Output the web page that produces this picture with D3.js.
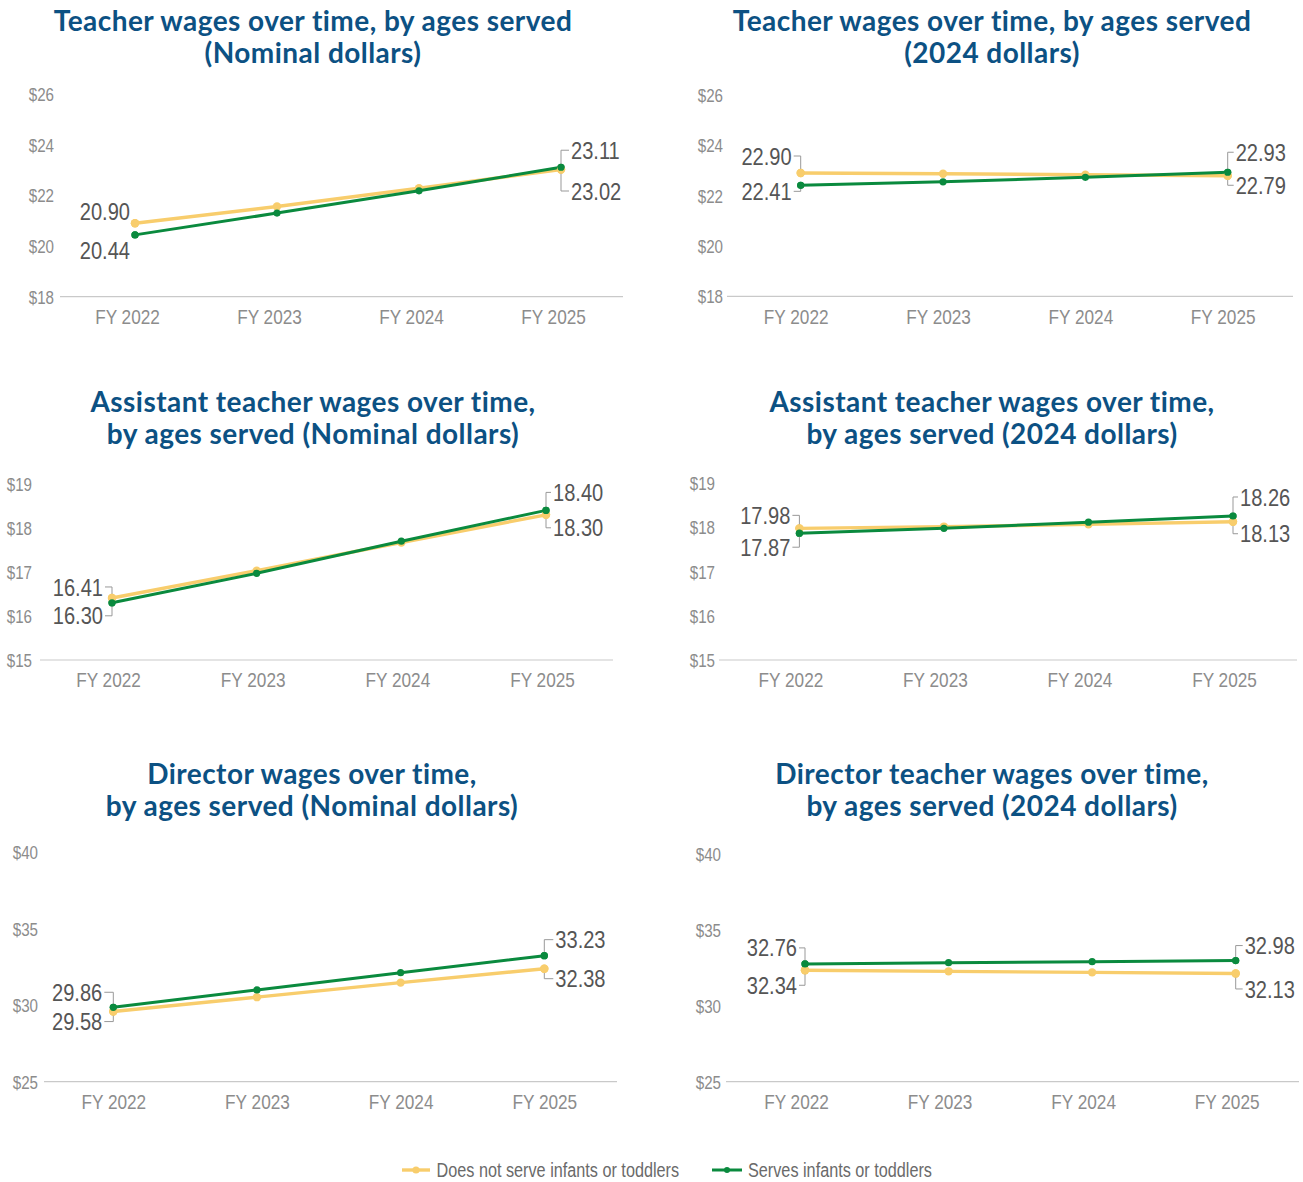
<!DOCTYPE html>
<html>
<head>
<meta charset="utf-8">
<script src="https://cdn.jsdelivr.net/npm/d3@7"></script>
<style>
  html, body { margin: 0; padding: 0; background: #fff; }
  svg { display: block; }
</style>
</head>
<body>
<svg id="chart" width="1303" height="1182"></svg>
<script>
// ---- Data ----
const years = ["FY 2022", "FY 2023", "FY 2024", "FY 2025"];
const seriesNames = ["Does not serve infants or toddlers", "Serves infants or toddlers"];

const teacherNominalNoInfants   = [20.90, 21.56, 22.28, 23.02];
const teacherNominalInfants     = [20.44, 21.30, 22.18, 23.11];
const teacherRealNoInfants      = [22.90, 22.87, 22.83, 22.79];
const teacherRealInfants        = [22.41, 22.55, 22.73, 22.93];
const assistantNominalNoInfants = [16.41, 17.03, 17.67, 18.30];
const assistantNominalInfants   = [16.30, 16.97, 17.70, 18.40];
const assistantRealNoInfants    = [17.98, 18.02, 18.07, 18.13];
const assistantRealInfants      = [17.87, 17.98, 18.12, 18.26];
const directorNominalNoInfants  = [29.58, 30.52, 31.47, 32.38];
const directorNominalInfants    = [29.86, 30.99, 32.12, 33.23];
const directorRealNoInfants     = [32.34, 32.27, 32.20, 32.13];
const directorRealInfants       = [32.76, 32.84, 32.91, 32.98];

const teacherTicks   = [18, 20, 22, 24, 26];
const assistantTicks = [15, 16, 17, 18, 19];
const directorTicks  = [25, 30, 35, 40];

const titles = [
  ["Teacher wages over time, by ages served", "(Nominal dollars)"],
  ["Teacher wages over time, by ages served", "(2024 dollars)"],
  ["Assistant teacher wages over time,", "by ages served (Nominal dollars)"],
  ["Assistant teacher wages over time,", "by ages served (2024 dollars)"],
  ["Director wages over time,", "by ages served (Nominal dollars)"],
  ["Director teacher wages over time,", "by ages served (2024 dollars)"]
];

// ---- Styles ----
const COLORS = ["#f8cd6c", "#0a8a3e"];
const LINE_W = [3.4, 3];
const DOT_R = [4.2, 3.6];
const TITLE_COLOR = "#0c5183";
const TICK_COLOR = "#8c8c8c";
const VALUE_COLOR = "#555";
const LEADER_COLOR = "#999";

// Narrow font detection; fall back to horizontally squeezed regular text
function fontAvailable(name) {
  const c = document.createElement("canvas").getContext("2d");
  const s = "FY 2022 $26 20.90 Does not serve";
  c.font = "20px monospace";
  const a = c.measureText(s).width;
  c.font = `20px '${name}', monospace`;
  const b = c.measureText(s).width;
  return Math.abs(a - b) > 0.5;
}
const HAS_NARROW = fontAvailable("Liberation Sans Narrow");
const NARROW = HAS_NARROW ? "'Liberation Sans Narrow', sans-serif" : "'Liberation Sans', Arial, sans-serif";
const SQUEEZE = HAS_NARROW ? 1 : 0.82;

function narrowText(sel) {
  sel.style("font-family", NARROW);
  if (SQUEEZE !== 1) {
    sel.each(function () {
      const t = d3.select(this);
      const x = +t.attr("x") || 0;
      t.attr("x", x / SQUEEZE).attr("transform", `scale(${SQUEEZE},1)`);
    });
  }
  return sel;
}

// ---- Panel layout ----
const panels = [
  { title: titles[0], cx: 313, ty: 21, series: [teacherNominalNoInfants, teacherNominalInfants], ticks: teacherTicks,
    px: [135, 561], axis: [60, 623], yr: [296.7, 94], tickRight: 54, xOff: -8,
    start: { dx: -5, dy: [-12, 16], leader: false }, end: { dx: 10, dy: [21.5, -17] } },
  { title: titles[1], cx: 992, ty: 21, series: [teacherRealNoInfants, teacherRealInfants], ticks: teacherTicks,
    px: [800.7, 1227.7], axis: [727, 1293], yr: [296.3, 95], tickRight: 723, xOff: -5,
    start: { dx: -9, dy: [-17, 6], leader: true }, end: { dx: 8, dy: [9.5, -20] } },
  { title: titles[2], cx: 313, ty: 402, series: [assistantNominalNoInfants, assistantNominalInfants], ticks: assistantTicks,
    px: [112, 546], axis: [40, 613], yr: [660, 484], tickRight: 32, xOff: -4,
    start: { dx: -9, dy: [-11, 13], leader: true }, end: { dx: 7, dy: [13, -18] } },
  { title: titles[3], cx: 992, ty: 402, series: [assistantRealNoInfants, assistantRealInfants], ticks: assistantTicks,
    px: [799.4, 1233], axis: [719, 1297], yr: [660, 483.3], tickRight: 715, xOff: -9,
    start: { dx: -9, dy: [-13, 14], leader: true }, end: { dx: 7, dy: [12, -19] } },
  { title: titles[4], cx: 312, ty: 774, series: [directorNominalNoInfants, directorNominalInfants], ticks: directorTicks,
    px: [113.3, 544.3], axis: [44, 617], yr: [1081.7, 852], tickRight: 38, xOff: 0,
    start: { dx: -11, dy: [10, -15], leader: true }, end: { dx: 11, dy: [10, -16] } },
  { title: titles[5], cx: 992, ty: 774, series: [directorRealNoInfants, directorRealInfants], ticks: directorTicks,
    px: [805, 1235.7], axis: [726, 1299], yr: [1081.7, 854], tickRight: 721, xOff: -9,
    start: { dx: -8, dy: [15, -16], leader: true }, end: { dx: 9, dy: [15.5, -15] } }
];

const svg = d3.select("#chart");
const fmt = d3.format(".2f");

panels.forEach(p => {
  const g = svg.append("g");
  const x = d3.scalePoint().domain(years).range(p.px);
  const y = d3.scaleLinear().domain([p.ticks[0], p.ticks[p.ticks.length - 1]]).range(p.yr);

  // Title
  const title = g.append("text")
    .attr("x", p.cx).attr("y", p.ty)
    .attr("text-anchor", "middle")
    .style("font-family", "Lato, 'Open Sans', sans-serif")
    .style("font-weight", 700)
    .style("font-size", "28px")
    .style("letter-spacing", "0.45px")
    .style("fill", TITLE_COLOR);
  p.title.forEach((line, i) => {
    title.append("tspan").attr("x", p.cx).attr("y", p.ty + i * 32).attr("dy", "0.35em").text(line);
  });

  // Baseline
  g.append("line")
    .attr("x1", p.axis[0]).attr("x2", p.axis[1])
    .attr("y1", y(p.ticks[0])).attr("y2", y(p.ticks[0]))
    .attr("stroke", "#c9c9c9").attr("stroke-width", 1.2);

  // Y axis labels
  const ya = g.append("g").attr("transform", `translate(${p.tickRight},0)`)
    .call(d3.axisLeft(y).tickValues(p.ticks).tickSize(0).tickPadding(0).tickFormat(d => "$" + d));
  ya.select(".domain").remove();
  ya.selectAll("text").attr("x", 0).attr("dy", "0.35em")
    .style("font-size", "18.5px").style("fill", TICK_COLOR);
  narrowText(ya.selectAll("text"));

  // X axis labels
  const xa = g.append("g").attr("transform", `translate(0,${y(p.ticks[0])})`)
    .call(d3.axisBottom(x).tickSize(0));
  xa.select(".domain").remove();
  xa.selectAll("text").attr("x", p.xOff).attr("y", 20).attr("dy", "0.35em")
    .style("font-size", "21px").style("fill", TICK_COLOR);
  narrowText(xa.selectAll("text"));

  // Lines and dots
  const line = d3.line().x((d, i) => x(years[i])).y(d => y(d));
  p.series.forEach((vals, si) => {
    g.append("path").datum(vals)
      .attr("d", line).attr("fill", "none")
      .attr("stroke", COLORS[si]).attr("stroke-width", LINE_W[si])
      .attr("stroke-linejoin", "round");
    g.selectAll(null).data(vals).enter().append("circle")
      .attr("cx", (d, i) => x(years[i])).attr("cy", d => y(d))
      .attr("r", DOT_R[si]).attr("fill", COLORS[si]);
  });

  // Value labels at first and last year
  p.series.forEach((vals, si) => {
    // first year
    const v0 = vals[0], px0 = x(years[0]), py0 = y(v0), ly0 = py0 + p.start.dy[si];
    const tx0 = px0 + p.start.dx;
    if (p.start.leader) {
      g.append("path")
        .attr("d", `M${tx0 + 2},${ly0}H${px0}V${py0}`)
        .attr("fill", "none").attr("stroke", LEADER_COLOR).attr("stroke-width", 1);
    }
    const t0 = g.append("text").attr("x", tx0).attr("y", ly0).attr("dy", "0.35em")
      .attr("text-anchor", "end").style("font-size", "24.5px").style("fill", VALUE_COLOR)
      .text(fmt(v0));
    narrowText(t0);

    // last year
    const n = vals.length - 1;
    const v1 = vals[n], px1 = x(years[n]), py1 = y(v1), ly1 = py1 + p.end.dy[si];
    const tx1 = px1 + p.end.dx;
    g.append("path")
      .attr("d", `M${px1},${py1}V${ly1}H${tx1 - 2}`)
      .attr("fill", "none").attr("stroke", LEADER_COLOR).attr("stroke-width", 1);
    const t1 = g.append("text").attr("x", tx1).attr("y", ly1).attr("dy", "0.35em")
      .attr("text-anchor", "start").style("font-size", "24.5px").style("fill", VALUE_COLOR)
      .text(fmt(v1));
    narrowText(t1);
  });

  // Redraw end dots on top of leaders
  p.series.forEach((vals, si) => {
    g.selectAll(null).data([vals[0], vals[vals.length - 1]]).enter().append("circle")
      .attr("cx", (d, i) => x(years[i === 0 ? 0 : years.length - 1])).attr("cy", d => y(d))
      .attr("r", DOT_R[si]).attr("fill", COLORS[si]);
  });
});

// ---- Legend ----
const legendItems = [
  { name: seriesNames[0], x0: 402, x1: 430, tx: 436.5 },
  { name: seriesNames[1], x0: 712, x1: 742, tx: 748 }
];
const ly = 1170;
const lg = svg.append("g");
legendItems.forEach((d, i) => {
  lg.append("line").attr("x1", d.x0).attr("x2", d.x1).attr("y1", ly).attr("y2", ly)
    .attr("stroke", COLORS[i]).attr("stroke-width", LINE_W[i]);
  lg.append("circle").attr("cx", (d.x0 + d.x1) / 2).attr("cy", ly).attr("r", DOT_R[i] - 0.6).attr("fill", COLORS[i]);
  const t = lg.append("text").attr("x", d.tx).attr("y", ly).attr("dy", "0.35em")
    .style("font-size", "19.8px").style("fill", "#6a6a6a").text(d.name);
  narrowText(t);
});
</script>
</body>
</html>
